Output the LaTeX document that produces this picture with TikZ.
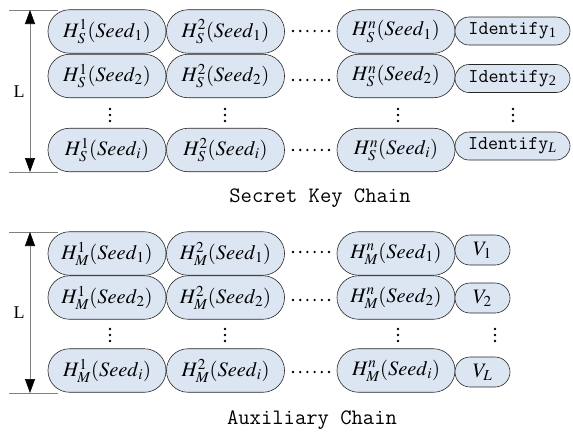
\documentclass[tikz,border=0pt]{standalone}
\usepackage{mathptmx}
\usepackage{fontspec}
\setmainfont{Liberation Serif}
\usetikzlibrary{arrows.meta}
\definecolor{nodefill}{RGB}{220,230,242}
\definecolor{lngray}{RGB}{128,128,128}
\begin{document}
\begin{tikzpicture}[x=1pt,y=-1pt,
  bignode/.style={draw=black!85,fill=nodefill,rounded corners=21.5pt,minimum width=118pt,minimum height=43.5pt,inner sep=0pt,line width=0.6pt,font=\fontsize{20.5}{24}\selectfont},
  idnode/.style={draw=black!85,fill=nodefill,rounded corners=14pt,minimum width=115pt,minimum height=28pt,inner sep=0pt,line width=0.6pt,font=\fontsize{19.5}{22}\selectfont\ttfamily},
  vnode/.style={draw=black!85,fill=nodefill,rounded corners=15pt,minimum width=55pt,minimum height=30pt,inner sep=0pt,line width=0.6pt,font=\fontsize{20.5}{24}\selectfont},
  dotc/.style={fill=black,circle,inner sep=0pt,minimum size=2.6pt},
  guide/.style={draw=lngray,line width=0.6pt},
  dimarrow/.style={draw=lngray,line width=0.7pt,{Triangle[black,length=14pt,width=10pt]}-{Triangle[black,length=14pt,width=10pt]}},
  lbl/.style={font=\fontsize{18}{20}\selectfont},
  title/.style={font=\fontsize{22}{26}\selectfont\ttfamily}
]
\useasboundingbox (0,0) rectangle (573,439);

% ---------- Secret Key Chain ----------
\coordinate (ta1) at (9,10);   \coordinate (tb1) at (58,10);
\coordinate (ta2) at (9,172);  \coordinate (tb2) at (58,172);
\coordinate (tu) at (30,10);   \coordinate (td) at (30,172);
\draw[guide] (ta1) -- (tb1);
\draw[guide] (ta2) -- (tb2);
\draw[dimarrow] (tu) -- (td);
\node[lbl] (tL) at (19,92) {L};

\node[bignode] (s11) at (107,31.5) {$H^{1}_{S}(\mathit{Seed}_{1})$};
\node[bignode] (s12) at (225.5,31.5) {$H^{2}_{S}(\mathit{Seed}_{1})$};
\node[bignode] (s1n) at (396,31.5) {$H^{n}_{S}(\mathit{Seed}_{1})$};
\node[idnode] (id1) at (512.5,31) {Identify\textsubscript{\rmfamily 1}};

\node[bignode] (s21) at (107,76) {$H^{1}_{S}(\mathit{Seed}_{2})$};
\node[bignode] (s22) at (225.5,76) {$H^{2}_{S}(\mathit{Seed}_{2})$};
\node[bignode] (s2n) at (396,76) {$H^{n}_{S}(\mathit{Seed}_{2})$};
\node[idnode] (id2) at (512.5,78.5) {Identify\textsubscript{\rmfamily 2}};

\node[bignode] (si1) at (107,150) {$H^{1}_{S}(\mathit{Seed}_{i})$};
\node[bignode] (si2) at (225.5,150) {$H^{2}_{S}(\mathit{Seed}_{i})$};
\node[bignode] (sin) at (396,150) {$H^{n}_{S}(\mathit{Seed}_{i})$};
\node[idnode] (idL) at (512.5,146) {Identify\textsubscript{\rmfamily\itshape L}};

\foreach \x in {110,225,398,513}{
  \foreach \y in {109,115,121}{ \node[dotc] at (\x,\y) {}; }
}
\foreach \y in {31,80,150}{
  \foreach \k in {0,...,5}{ \node[dotc] at (293+7.2*\k,\y) {}; }
}
\node[title] (t1) at (320,198) {Secret Key Chain};

% ---------- Auxiliary Chain ----------
\coordinate (ba1) at (9,232);   \coordinate (bb1) at (58,232);
\coordinate (ba2) at (9,393);   \coordinate (bb2) at (58,393);
\coordinate (bu) at (30,232);   \coordinate (bd) at (30,393);
\draw[guide] (ba1) -- (bb1);
\draw[guide] (ba2) -- (bb2);
\draw[dimarrow] (bu) -- (bd);
\node[lbl] (bL) at (19,313) {L};

\node[bignode] (m11) at (107,253.5) {$H^{1}_{M}(\mathit{Seed}_{1})$};
\node[bignode] (m12) at (225.5,253.5) {$H^{2}_{M}(\mathit{Seed}_{1})$};
\node[bignode] (m1n) at (396,253.5) {$H^{n}_{M}(\mathit{Seed}_{1})$};
\node[vnode] (v1) at (482.5,250) {$V_{1}$};

\node[bignode] (m21) at (107,297.5) {$H^{1}_{M}(\mathit{Seed}_{2})$};
\node[bignode] (m22) at (225.5,297.5) {$H^{2}_{M}(\mathit{Seed}_{2})$};
\node[bignode] (m2n) at (396,297.5) {$H^{n}_{M}(\mathit{Seed}_{2})$};
\node[vnode] (v2) at (482.5,298) {$V_{2}$};

\node[bignode] (mi1) at (107,370.5) {$H^{1}_{M}(\mathit{Seed}_{i})$};
\node[bignode] (mi2) at (225.5,370.5) {$H^{2}_{M}(\mathit{Seed}_{i})$};
\node[bignode] (min) at (396,370.5) {$H^{n}_{M}(\mathit{Seed}_{i})$};
\node[vnode] (vL) at (482.5,372) {$V_{L}$};

\foreach \x in {110,225,398,495}{
  \foreach \y in {329,335,341}{ \node[dotc] at (\x,\y) {}; }
}
\foreach \y in {252,300,372}{
  \foreach \k in {0,...,5}{ \node[dotc] at (293+7.2*\k,\y) {}; }
}
\node[title] (t2) at (312,420) {Auxiliary Chain};
\end{tikzpicture}
\end{document}
